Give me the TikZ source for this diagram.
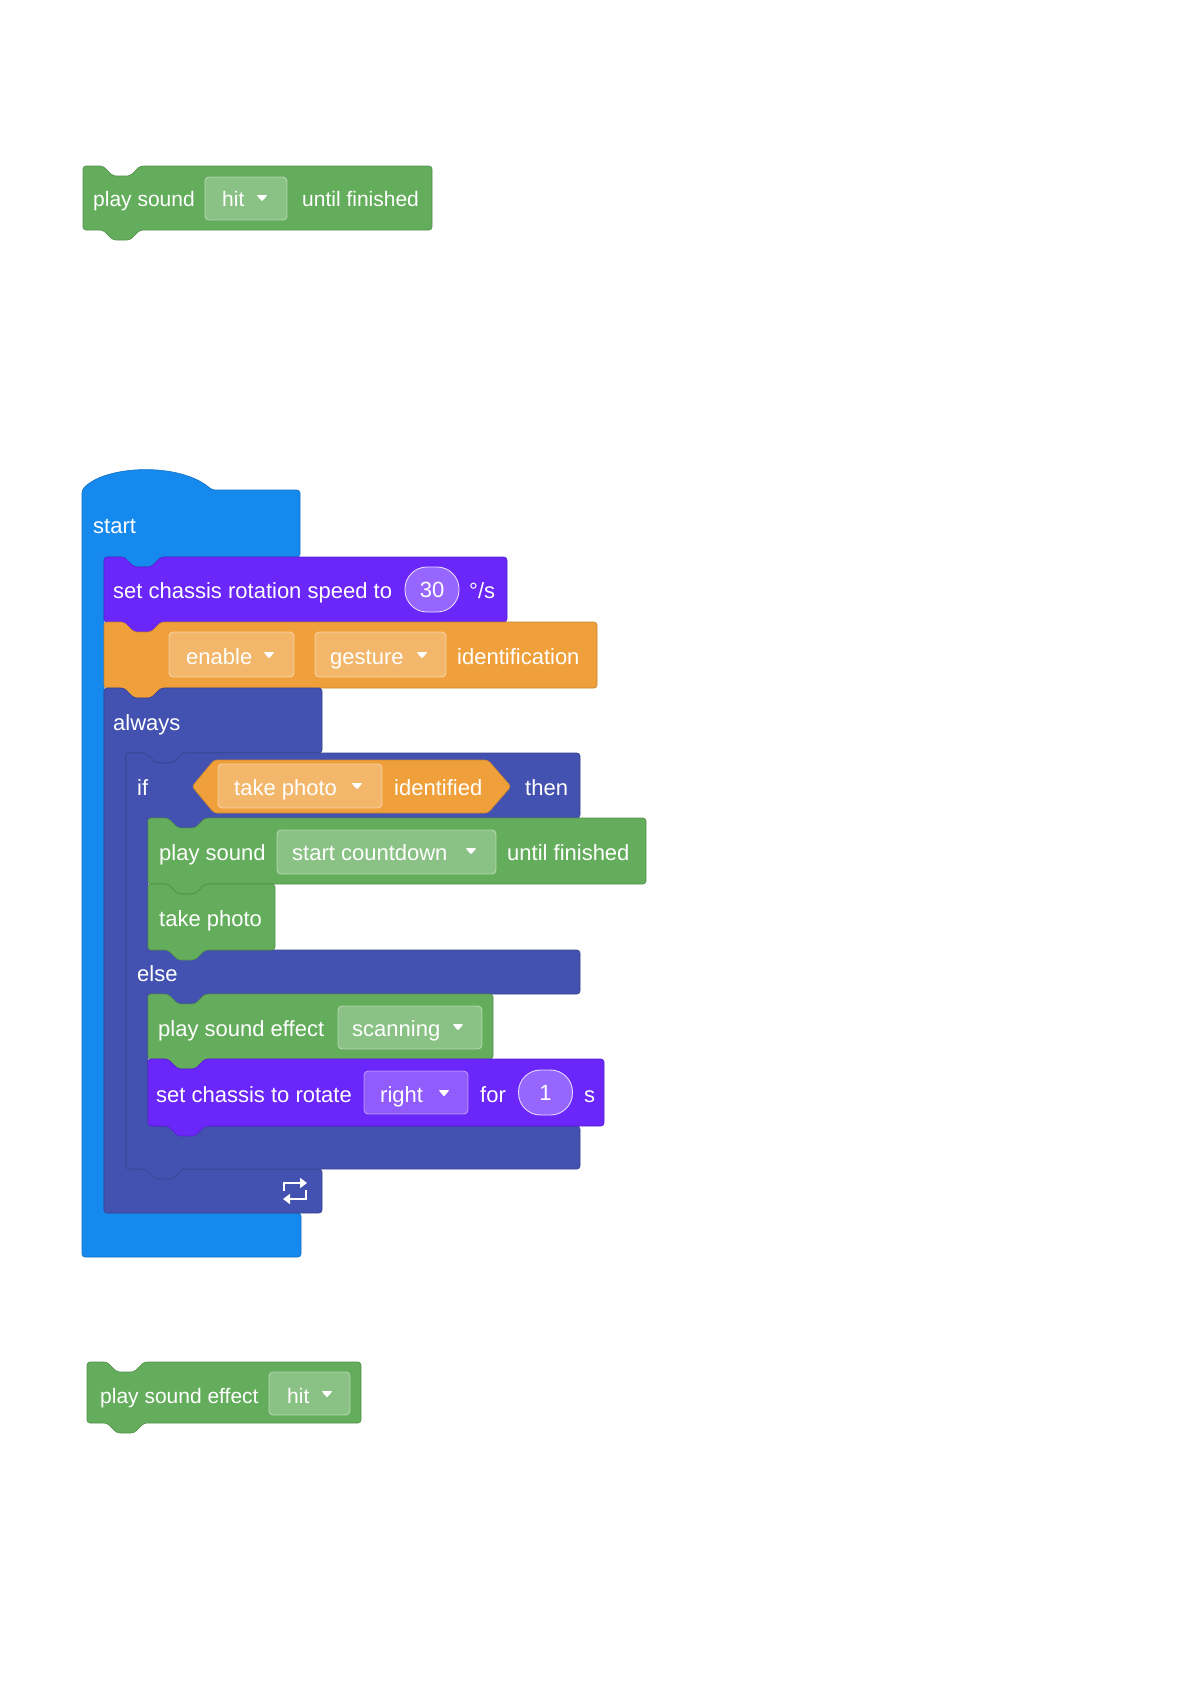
\documentclass[tikz,border=0pt]{standalone}
\usepackage{fontspec}
\setmainfont{Liberation Sans}
\usepackage{tikz}
\usetikzlibrary{arrows.meta,positioning}

\definecolor{startblue}{RGB}{22,137,238}
\definecolor{chassispurple}{RGB}{107,38,250}
\definecolor{sensorange}{RGB}{240,160,58}
\definecolor{ctrlnavy}{RGB}{67,82,176}
\definecolor{sndgreen}{RGB}{100,173,92}
\definecolor{ovalpurple}{RGB}{150,102,255}

\newcommand{\blkfont}{\fontsize{22}{26}\selectfont}
\newcommand{\smallblkfont}{\fontsize{21}{25}\selectfont}
% colour, left, top, right, bottom
\newcommand{\stackblock}[5]{\filldraw[blk, fill=#1, draw=#1!82!black] (#2,#3) -- ++(20,0) -- ++(10,10) -- ++(17,0) -- ++(10,-10) -- (#4,#3) -- (#4,#5) -- (#2+57,#5) -- ++(-10,10) -- ++(-17,0) -- ++(-10,-10) -- (#2,#5) -- cycle;}
\newcommand{\ddarrow}[2]{\fill[white, rounded corners=1pt] (#1,#2) ++(-5.5,-3) -- ++(11,0) -- ++(-5.5,6.5) -- cycle;}

\begin{document}
\begin{tikzpicture}[x=1pt, y=-1pt, every node/.style={font=\blkfont, text=white, inner sep=0pt},
  lbl/.style={anchor=west, text height=16pt, text depth=0pt},
  blk/.style={line width=0.6pt, rounded corners=3pt},
  dd/.style={fill=white, fill opacity=0.25, draw=white, draw opacity=0.45, line width=0.9pt, rounded corners=4pt},
  ovalbox/.style={fill=ovalpurple, draw=white!75!ovalpurple, line width=0.9pt, rounded corners=22pt, minimum width=54pt, minimum height=45pt, text height=16pt, text depth=0pt}]
\useasboundingbox (0,0) rectangle (1191,1684);

% single block at the top
\stackblock{sndgreen}{83}{166}{432}{230}
\draw[dd] (205,177) rectangle (287,220);
\node[lbl, font=\smallblkfont] (topplay) at (93,198) {play sound};
\node[lbl, font=\smallblkfont] (tophit) at (222,198) {hit};
\ddarrow{262}{198}
\node[lbl, font=\smallblkfont] (topuntil) at (302,198) {until finished};

% start hat
\filldraw[blk, fill=startblue, draw=startblue!82!black] (82,490) .. controls (105,465) and (180,462) .. (212,490) -- (300,490) -- (300,557) -- (161,557) -- ++(-10,10) -- ++(-17,0) -- ++(-10,-10) -- (104,557) -- (104,1213) -- (301,1213) -- (301,1257) -- (82,1257) -- cycle;
\node[lbl] (start) at (93,525) {start};

\stackblock{chassispurple}{104}{557}{507}{622}
\node[lbl] (speedset) at (113,590) {set chassis rotation speed to};
\node[ovalbox] (speedval) at (432,589.5) {30};
\node[lbl] (speedunit) at (469,590) {°/s};

\stackblock{sensorange}{104}{622}{597}{688}
\draw[dd] (169,632) rectangle (294,677);
\node[lbl] (enable) at (186,656) {enable};
\ddarrow{269}{655}
\draw[dd] (315,632) rectangle (446,677);
\node[lbl] (gesture) at (330,656) {gesture};
\ddarrow{422}{655}
\node[lbl] (ident) at (457,656) {identification};

% always loop
\filldraw[blk, fill=ctrlnavy, draw=ctrlnavy!82!black] (104,688) -- ++(20,0) -- ++(10,10) -- ++(17,0) -- ++(10,-10) -- (322,688) -- (322,753) -- (183,753) -- ++(-10,10) -- ++(-17,0) -- ++(-10,-10) -- (126,753) -- (126,1169) -- (322,1169) -- (322,1213) -- (104,1213) -- cycle;
\node[lbl] (always) at (113,722) {always};
\draw[white, line width=2.6pt, -{Triangle[length=7pt,width=10pt]}] (284,1191) -- (284,1183) -- (307,1183);
\draw[white, line width=2.6pt, -{Triangle[length=7pt,width=10pt]}] (306,1190) -- (306,1199) -- (283,1199);

% if then else
\filldraw[blk, fill=ctrlnavy, draw=ctrlnavy!82!black] (126,753) -- ++(20,0) -- ++(10,10) -- ++(17,0) -- ++(10,-10) -- (580,753) -- (580,818) -- (205,818) -- ++(-10,10) -- ++(-17,0) -- ++(-10,-10) -- (148,818) -- (148,950) -- (580,950) -- (580,994) -- (205,994) -- ++(-10,10) -- ++(-17,0) -- ++(-10,-10) -- (148,994) -- (148,1126) -- (580,1126) -- (580,1169) -- (183,1169) -- ++(-10,10) -- ++(-17,0) -- ++(-10,-10) -- (126,1169) -- cycle;
\node[lbl] (iftxt) at (137,787) {if};
\filldraw[blk, fill=sensorange, draw=sensorange!82!black] (192,786.5) -- (214,760) -- (488,760) -- (511,786.5) -- (488,813) -- (214,813) -- cycle;
\draw[dd] (218,764) rectangle (382,808);
\node[lbl] (photo) at (234,787) {take photo};
\ddarrow{357}{786}
\node[lbl] (identified) at (394,787) {identified};
\node[lbl] (then) at (525,787) {then};
\node[lbl] (else) at (137,973) {else};

\stackblock{sndgreen}{148}{818}{646}{884}
\node[lbl] (play) at (159,852) {play sound};
\draw[dd] (277,830) rectangle (496,874);
\node[lbl] (countdown) at (292,852) {start countdown};
\ddarrow{471}{851}
\node[lbl] (until) at (507,852) {until finished};

\stackblock{sndgreen}{148}{884}{275}{950}
\node[lbl] (takephoto) at (159,918) {take photo};

\stackblock{sndgreen}{148}{994}{493}{1059}
\node[lbl] (effect) at (158,1028) {play sound effect};
\draw[dd] (338,1006) rectangle (482,1049);
\node[lbl] (scanning) at (352,1028) {scanning};
\ddarrow{458}{1027}

\stackblock{chassispurple}{148}{1059}{604}{1126}
\node[lbl] (rotate) at (156,1094) {set chassis to rotate};
\draw[dd] (364,1071) rectangle (468,1114);
\node[lbl] (right) at (380,1094) {right};
\ddarrow{444}{1093}
\node[lbl] (for) at (480,1094) {for};
\node[ovalbox] (rotval) at (545.5,1092.5) {1};
\node[lbl] (sec) at (584,1094) {s};

% single block at the bottom
\stackblock{sndgreen}{87}{1362}{361}{1423}
\node[lbl, font=\smallblkfont] (botplay) at (100,1395) {play sound effect};
\draw[dd] (269,1372) rectangle (350,1415);
\node[lbl, font=\smallblkfont] (bothit) at (287,1395) {hit};
\ddarrow{327}{1394}
\end{tikzpicture}
\end{document}
